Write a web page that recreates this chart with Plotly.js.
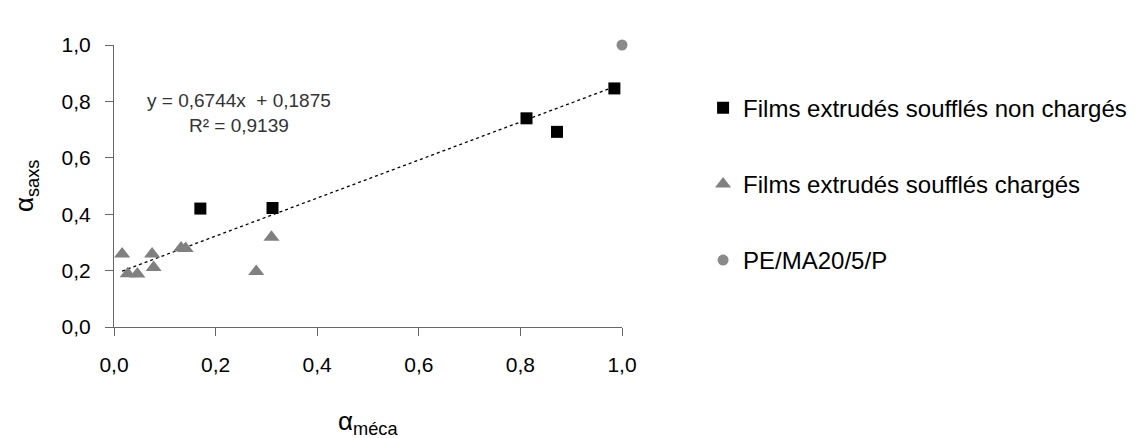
<!DOCTYPE html>
<html>
<head>
<meta charset="utf-8">
<script src="https://cdn.plot.ly/plotly-3.0.1.min.js"></script>
<style>html,body{margin:0;padding:0;background:#fff;}#chart{width:1145px;height:438px;}</style>
</head>
<body>
<div id="chart"></div>
<script>
// Data
const seriesNames = ["Films extrudés soufflés non chargés", "Films extrudés soufflés chargés", "PE/MA20/5/P"];
const xUnfilled = [0.170, 0.312, 0.812, 0.872, 0.985];
const yUnfilled = [0.420, 0.422, 0.740, 0.692, 0.846];
const xFilled = [0.016, 0.027, 0.046, 0.075, 0.078, 0.132, 0.141, 0.280, 0.310];
const yFilled = [0.259, 0.189, 0.188, 0.259, 0.211, 0.280, 0.278, 0.197, 0.318];
const xPE = [1.0];
const yPE = [1.0];
const fitSlope = 0.6744;
const fitIntercept = 0.1875;
const fitR2 = 0.9139;
const tickVals = [0, 0.2, 0.4, 0.6, 0.8, 1.0];

const FONT = "Liberation Sans, Arial, sans-serif";
const fmt = v => v.toFixed(4).replace('.', ',');

const fitXs = xUnfilled.concat(xFilled);
const xMin = Math.min(...fitXs), xMax = Math.max(...fitXs);
const trendX = [xMin, xMax];
const trendY = trendX.map(x => fitSlope * x + fitIntercept);

const traces = [
  {x: trendX, y: trendY, mode: 'lines', type: 'scatter', showlegend: false, hoverinfo: 'skip',
   line: {color: '#000', width: 1.3, dash: '3px,3px'}},
  {x: xUnfilled, y: yUnfilled, mode: 'markers', type: 'scatter', name: seriesNames[0], legendgroup: 'a',
   marker: {symbol: 'square', size: 12, color: '#000'}, cliponaxis: false},
  {x: xFilled, y: yFilled, mode: 'markers', type: 'scatter', name: seriesNames[1], legendgroup: 'b',
   marker: {symbol: 'triangle-up', size: 14, color: '#808080'}, cliponaxis: false},
  {x: xPE, y: yPE, mode: 'markers', type: 'scatter', name: seriesNames[2], legendgroup: 'c',
   marker: {symbol: 'circle', size: 11, color: '#8a8a8a'}, cliponaxis: false}
];

const axisCommon = {
  range: [0, 1], tickvals: tickVals, tickformat: '.1f', showline: true, linecolor: '#666', linewidth: 1,
  ticks: 'outside', ticklen: 8, tickcolor: '#666', tickwidth: 1, showgrid: false, zeroline: false,
  tickfont: {family: FONT, size: 21, color: '#000'}, fixedrange: true
};

const layout = {
  width: 1145, height: 438,
  margin: {l: 114, r: 523, t: 45, b: 111, pad: 0},
  paper_bgcolor: '#fff', plot_bgcolor: '#fff',
  separators: ', ',
  font: {family: FONT, color: '#000'},
  xaxis: Object.assign({}, axisCommon, {ticklabelstandoff: 11}),
  yaxis: Object.assign({}, axisCommon, {ticklabelstandoff: 10}),
  showlegend: true,
  legend: {x: 1.1596, y: 0.856, xanchor: 'left', yanchor: 'top', font: {family: FONT, size: 24, color: '#000'},
           tracegroupgap: 42, bgcolor: 'rgba(0,0,0,0)', borderwidth: 0},
  annotations: [
    {xref: 'paper', yref: 'paper', x: 0.246, y: 0.758, xanchor: 'center', yanchor: 'middle', showarrow: false,
     text: 'y = ' + fmt(fitSlope) + 'x\u00a0 + ' + fmt(fitIntercept) + '<br>R² = ' + fmt(fitR2),
     font: {family: FONT, size: 19, color: '#333'}},
    {xref: 'paper', yref: 'paper', x: 0.5, y: -0.34, xanchor: 'center', yanchor: 'middle', showarrow: false,
     text: 'α<sub>méca</sub>', font: {family: FONT, size: 26, color: '#000'}},
    {xref: 'paper', yref: 'paper', x: -0.175, y: 0.5, xanchor: 'center', yanchor: 'middle', showarrow: false,
     textangle: -90, text: 'α<sub>saxs</sub>', font: {family: FONT, size: 26, color: '#000'}}
  ]
};

Plotly.newPlot('chart', traces, layout, {displayModeBar: false, staticPlot: true});
</script>
</body>
</html>
